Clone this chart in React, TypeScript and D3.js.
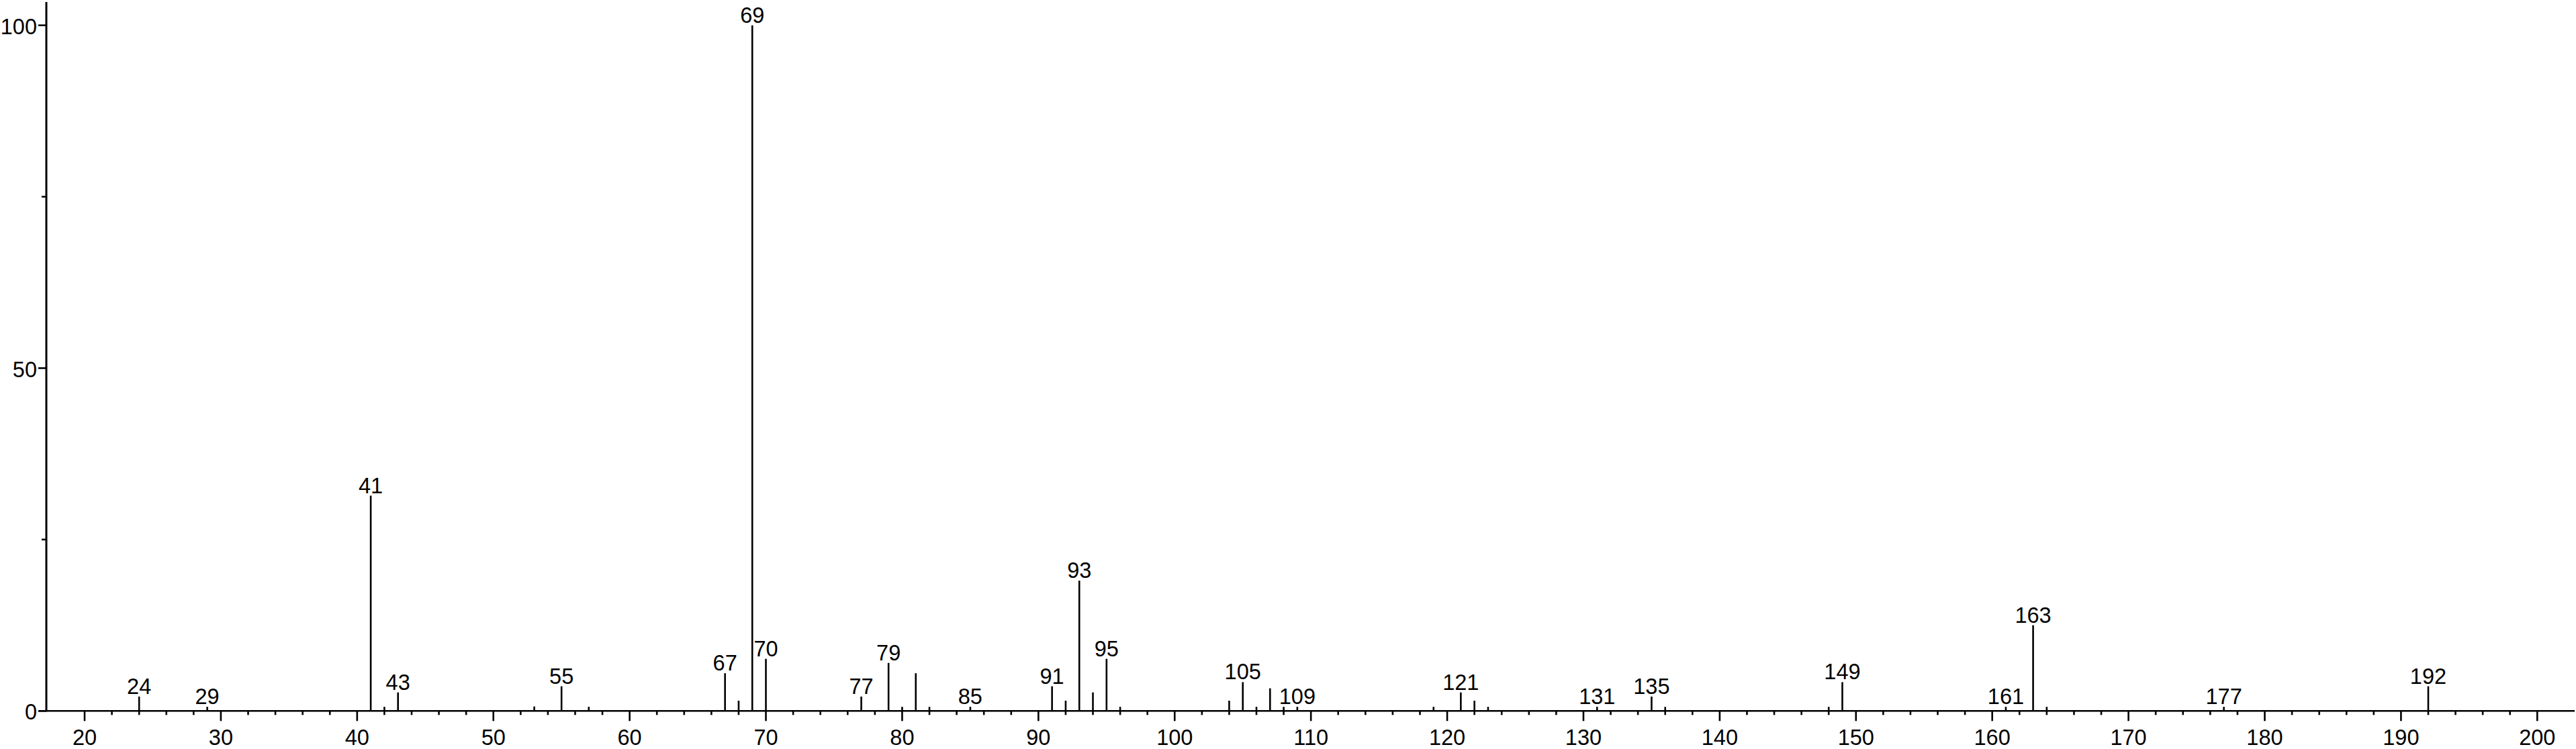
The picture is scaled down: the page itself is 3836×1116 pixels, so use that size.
import React from "react";
import * as d3 from "d3";

// m/z values and relative intensities (%)
const mzValues = [24, 29, 41, 42, 43, 53, 55, 57, 67, 68, 69, 70, 77, 79, 80, 81, 82, 85, 91, 92, 93, 94, 95, 96, 104, 105, 106, 107, 108, 109, 119, 121, 122, 123, 131, 135, 136, 148, 149, 161, 163, 164, 177, 192];
const intensities = [2.1, 0.6, 31.4, 0.6, 2.7, 0.65, 3.6, 0.6, 5.5, 1.5, 100, 7.6, 2.1, 7.0, 0.6, 5.5, 0.6, 0.6, 3.6, 1.5, 19.0, 2.7, 7.6, 0.6, 1.5, 4.2, 0.6, 3.3, 0.6, 0.6, 0.6, 2.7, 1.5, 0.6, 0.6, 2.1, 0.6, 0.6, 4.2, 0.6, 12.5, 0.6, 0.6, 3.6];
const labelledPeaks = [24, 29, 41, 43, 55, 67, 69, 70, 77, 79, 85, 91, 93, 95, 105, 109, 121, 131, 135, 149, 161, 163, 177, 192];
const xMajorTicks = [20, 30, 40, 50, 60, 70, 80, 90, 100, 110, 120, 130, 140, 150, 160, 170, 180, 190, 200];
const yMajorTicks = [0, 50, 100];
const yMinorTicks = [25, 75];

const W = 3836;
const H = 1116;
const FONT = "'Liberation Sans', Arial, Helvetica, sans-serif";

export default function App() {
  const x = d3.scaleLinear().domain([20, 200]).range([126, 3778.3]);
  const y = d3.scaleLinear().domain([0, 100]).range([1059.3, 37.7]);
  const x0 = x.invert(69);
  const xEnd = 3834;
  const yTop = y.invert(3);
  const minorX = d3.range(20, 201, 2).filter((v) => v % 10 !== 0);
  const peaks = mzValues.map((m, i) => ({ m, v: intensities[i] }));
  const axisX = x(x0);
  const baseY = y(0);
  return (
    <svg
      width={W}
      height={H}
      style={{ position: "absolute", left: 0, top: 0, background: "#fff" }}
      fontFamily={FONT}
    >
      <rect x={0} y={0} width={W} height={H} fill="#fff" />
      {/* peaks */}
      {peaks.map((p) => (
        <line
          key={"p" + p.m}
          x1={x(p.m)}
          x2={x(p.m)}
          y1={baseY}
          y2={y(p.v)}
          stroke="#000"
          strokeWidth={2.6}
        />
      ))}
      {/* peak labels */}
      {peaks
        .filter((p) => labelledPeaks.includes(p.m))
        .map((p) => (
          <text
            key={"l" + p.m}
            x={x(p.m)}
            y={y(p.v) - 4}
            textAnchor="middle"
            fontSize={32.5}
            fill="#000"
          >
            {p.m}
          </text>
        ))}
      {/* x axis */}
      <line x1={axisX - 12} x2={xEnd} y1={baseY} y2={baseY} stroke="#000" strokeWidth={2.6} />
      {xMajorTicks.map((t) => (
        <g key={"xt" + t}>
          <line x1={x(t)} x2={x(t)} y1={baseY} y2={baseY + 15} stroke="#000" strokeWidth={2.6} />
          <text x={x(t)} y={baseY + 51} textAnchor="middle" fontSize={32.5} fill="#000">
            {t}
          </text>
        </g>
      ))}
      {minorX.map((t) => (
        <line key={"xm" + t} x1={x(t)} x2={x(t)} y1={baseY} y2={baseY + 6} stroke="#000" strokeWidth={2.6} />
      ))}
      {/* y axis */}
      <line x1={axisX} x2={axisX} y1={y(yTop)} y2={baseY + 1} stroke="#000" strokeWidth={3} />
      {yMajorTicks.map((t) => (
        <g key={"yt" + t}>
          <line x1={axisX - 12} x2={axisX} y1={y(t)} y2={y(t)} stroke="#000" strokeWidth={2.6} />
          <text x={axisX - 14} y={y(t) + 13} textAnchor="end" fontSize={32.5} fill="#000">
            {t}
          </text>
        </g>
      ))}
      {yMinorTicks.map((t) => (
        <line key={"ym" + t} x1={axisX - 7} x2={axisX} y1={y(t)} y2={y(t)} stroke="#000" strokeWidth={2.6} />
      ))}
    </svg>
  );
}
